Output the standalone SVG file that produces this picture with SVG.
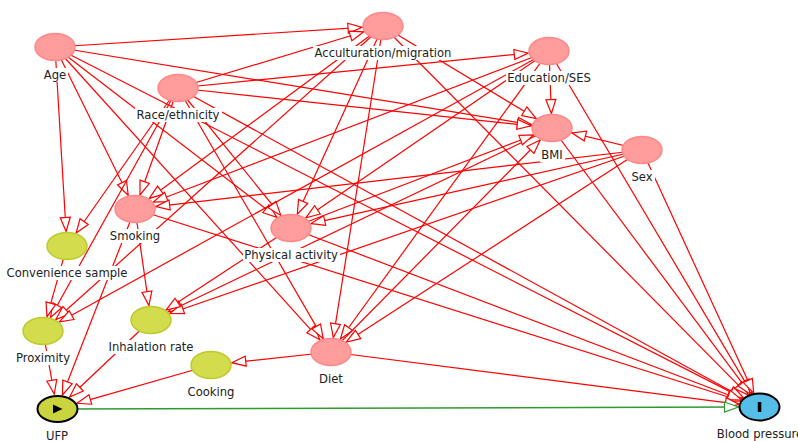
<svg xmlns="http://www.w3.org/2000/svg" width="798" height="441" viewBox="0 0 798 441">
<defs>
<style>
.e{stroke:#f00;stroke-width:1.2;fill:none;marker-end:url(#ar)}
.g{stroke:#2e9b2e;stroke-width:1.5;fill:none;marker-end:url(#ag)}
.pk{fill:#ff9c9c;stroke:#f88;stroke-width:1.5}
.yg{fill:#d2dc4c;stroke:#bccb2c;stroke-width:1.5}
.lb{fill:#fff}
text{font-family:"DejaVu Sans","Liberation Sans",sans-serif;font-size:11.6px;fill:#222;text-anchor:middle}
</style>
<marker id="ar" viewBox="0 0 16 12" refX="15" refY="6" markerWidth="16" markerHeight="12" markerUnits="userSpaceOnUse" orient="auto"><path d="M1,1 L15,6 L1,11 z" fill="#fff" stroke="#f00" stroke-width="1.2"/></marker>
<marker id="ag" viewBox="0 0 16 12" refX="15" refY="6" markerWidth="16" markerHeight="12" markerUnits="userSpaceOnUse" orient="auto"><path d="M1,1 L15,6 L1,11 z" fill="#fff" stroke="#2e9b2e" stroke-width="1.2"/></marker>
</defs>
<rect width="798" height="441" fill="#fff"/>
<g id="edges">
<path class="e" d="M55,47 L362,27.3"/>
<path class="e" d="M55,47 L531.6,124.7"/>
<path class="e" d="M55,47 L66.1,231.5"/>
<path class="e" d="M55,47 L128.2,195.3"/>
<path class="e" d="M55,47 L277,217.3"/>
<path class="e" d="M55,47 L319.9,339.8"/>
<path class="e" d="M55,47 L743.2,398.4"/>
<path class="e" d="M178,88 L363.8,31.8"/>
<path class="e" d="M178,88 L528.2,53.1"/>
<path class="e" d="M178,88 L531.2,125.8"/>
<path class="e" d="M178,88 L140,195"/>
<path class="e" d="M178,88 L76.1,233"/>
<path class="e" d="M178,88 L50.5,317.5"/>
<path class="e" d="M178,88 L280.8,215.4"/>
<path class="e" d="M178,88 L323.2,338.6"/>
<path class="e" d="M178,88 L743.6,398"/>
<path class="e" d="M383,26 L149.3,198.4"/>
<path class="e" d="M383,26 L297.3,214.2"/>
<path class="e" d="M383,26 L333.3,337.6"/>
<path class="e" d="M383,26 L536.2,118.5"/>
<path class="e" d="M383,26 L748.2,395.1"/>
<path class="e" d="M383,26 L55.8,319.5"/>
<path class="e" d="M549,51 L551.4,113.5"/>
<path class="e" d="M549,51 L153.3,202"/>
<path class="e" d="M549,51 L305.9,217.8"/>
<path class="e" d="M549,51 L340.4,339"/>
<path class="e" d="M549,51 L752,393.6"/>
<path class="e" d="M549,51 L59.4,321.9"/>
<path class="e" d="M552,128 L750.4,394.2"/>
<path class="e" d="M552,128 L168.2,311.7"/>
<path class="e" d="M642,150 L571.8,132.8"/>
<path class="e" d="M642,150 L753.7,393.2"/>
<path class="e" d="M642,150 L155.7,206.6"/>
<path class="e" d="M642,150 L311,223.6"/>
<path class="e" d="M642,150 L346.3,342.1"/>
<path class="e" d="M642,150 L169.7,313.5"/>
<path class="e" d="M135,209 L148.9,305.5"/>
<path class="e" d="M135,209 L62.4,395"/>
<path class="e" d="M135,209 L740.9,401"/>
<path class="e" d="M291,228 L166.1,310.1"/>
<path class="e" d="M291,228 L741.7,400"/>
<path class="e" d="M291,228 L533.7,135"/>
<path class="e" d="M331,352 L540.2,140"/>
<path class="e" d="M331,352 L231.8,362.7"/>
<path class="e" d="M331,352 L739.4,404.4"/>
<path class="e" d="M67,246 L47,316.7"/>
<path class="e" d="M43,331 L54.3,394.1"/>
<path class="e" d="M151,320 L69.7,397"/>
<path class="e" d="M211,365 L76.9,403.3"/>
<path class="g" d="M57,409 L738.5,407"/>
</g>
<g id="n-age"><ellipse class="pk" cx="55" cy="47" rx="20" ry="13.5"/><rect class="lb" x="42" y="68" width="26" height="14"/><text x="55" y="79">Age</text></g>
<g id="n-race"><ellipse class="pk" cx="178" cy="88" rx="20" ry="13.5"/><rect class="lb" x="135" y="108" width="87" height="14"/><text x="178" y="119">Race/ethnicity</text></g>
<g id="n-acc"><ellipse class="pk" cx="383" cy="26" rx="20" ry="13.5"/><rect class="lb" x="313" y="46" width="140" height="14"/><text x="383" y="57">Acculturation/migration</text></g>
<g id="n-edu"><ellipse class="pk" cx="549" cy="51" rx="20" ry="13.5"/><rect class="lb" x="506" y="71" width="88" height="14"/><text x="549" y="82">Education/SES</text></g>
<g id="n-bmi"><ellipse class="pk" cx="552" cy="128" rx="20" ry="13.5"/><rect class="lb" x="540" y="148" width="25" height="14"/><text x="552" y="159">BMI</text></g>
<g id="n-sex"><ellipse class="pk" cx="642" cy="150" rx="20" ry="13.5"/><rect class="lb" x="630" y="170" width="25" height="14"/><text x="642" y="181">Sex</text></g>
<g id="n-smoking"><ellipse class="pk" cx="135" cy="209" rx="20" ry="13.5"/><rect class="lb" x="108" y="229" width="54" height="14"/><text x="135" y="240">Smoking</text></g>
<g id="n-conv"><ellipse class="yg" cx="67" cy="246" rx="20" ry="13.5"/><rect class="lb" x="5" y="266" width="124" height="14"/><text x="67" y="277">Convenience sample</text></g>
<g id="n-pa"><ellipse class="pk" cx="291" cy="228" rx="20" ry="13.5"/><rect class="lb" x="243" y="248" width="97" height="14"/><text x="291" y="259">Physical activity</text></g>
<g id="n-prox"><ellipse class="yg" cx="43" cy="331" rx="20" ry="13.5"/><rect class="lb" x="14" y="351" width="58" height="14"/><text x="43" y="362">Proximity</text></g>
<g id="n-inh"><ellipse class="yg" cx="151" cy="320" rx="20" ry="13.5"/><rect class="lb" x="107" y="340" width="88" height="14"/><text x="151" y="351">Inhalation rate</text></g>
<g id="n-cook"><ellipse class="yg" cx="211" cy="365" rx="20" ry="13.5"/><rect class="lb" x="186" y="385" width="50" height="14"/><text x="211" y="396">Cooking</text></g>
<g id="n-diet"><ellipse class="pk" cx="331" cy="352" rx="20" ry="13.5"/><rect class="lb" x="318" y="372" width="27" height="14"/><text x="331" y="383">Diet</text></g>
<g id="n-ufp"><ellipse cx="57.5" cy="409" rx="20" ry="13" fill="#c9d43e" stroke="#000" stroke-width="2"/><polygon points="53,404.5 62.5,409 53,413.5" fill="#000"/><text x="57" y="440">UFP</text></g>
<g id="n-bp"><ellipse cx="759.5" cy="407" rx="20" ry="13.5" fill="#56bde6" stroke="#000" stroke-width="2"/><rect x="757.8" y="402" width="3.5" height="10" fill="#000"/><text x="760" y="438">Blood pressure</text></g>
</svg>
